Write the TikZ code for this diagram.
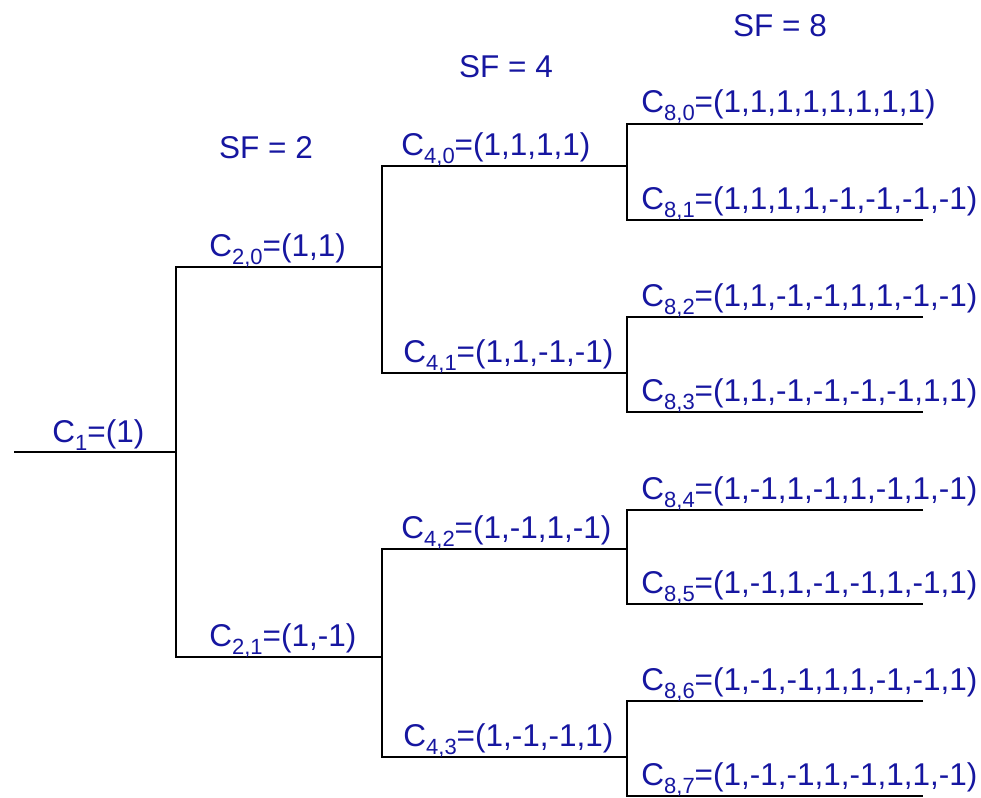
\documentclass[tikz,border=0pt]{standalone}
\usepackage{fontspec}
\setmainfont{Liberation Sans}
\definecolor{lab}{RGB}{22,22,160}
\newcommand{\cs}[2]{C\raisebox{-8pt}{\fontsize{22}{22}\selectfont #1}=(#2)}
\begin{document}
\begin{tikzpicture}[x=1pt,y=-1pt,line width=2.8pt,
  lbl/.style={anchor=base west,inner sep=0pt,text=lab,font=\fontsize{31.5}{32}\selectfont},
  sf/.style={anchor=base,inner sep=0pt,text=lab,font=\fontsize{31.5}{32}\selectfont},
  wire/.style={draw=black,line width=2.8pt}]
\useasboundingbox (0,0) rectangle (981,797);
% junction coordinates
\coordinate (r0) at (14,452);
\coordinate (r1) at (176,452);
\coordinate (a0) at (176,267); \coordinate (a0e) at (382,267);
\coordinate (a1) at (176,657); \coordinate (a1e) at (382,657);
\coordinate (b0) at (382,166); \coordinate (b0e) at (627,166);
\coordinate (b1) at (382,373); \coordinate (b1e) at (627,373);
\coordinate (b2) at (382,549); \coordinate (b2e) at (627,549);
\coordinate (b3) at (382,757); \coordinate (b3e) at (627,757);
\foreach \i/\y in {0/124,1/220,2/317,3/412,4/510,5/604,6/701,7/796}{
  \coordinate (c\i) at (627,\y); \coordinate (c\i e) at (923,\y);
}
% wires
\draw[wire] (r0) -- (r1);
\draw[wire] (a0e) -- (a0) -- (a1) -- (a1e);
\draw[wire] (b0e) -- (b0) -- (b1) -- (b1e);
\draw[wire] (b2e) -- (b2) -- (b3) -- (b3e);
\draw[wire] (c0e) -- (c0) -- (c1) -- (c1e);
\draw[wire] (c2e) -- (c2) -- (c3) -- (c3e);
\draw[wire] (c4e) -- (c4) -- (c5) -- (c5e);
\draw[wire] (c6e) -- (c6) -- (c7) -- (c7e);
% labels
\node[sf] (sf2) at (266,158) {SF = 2};
\node[sf] (sf4) at (506,78) {SF = 4};
\node[sf] (sf8) at (780,37) {SF = 8};
\node[lbl] (l1) at (51,442) {\cs{1}{1}};
\node[lbl] (l20) at (208,256) {\cs{2,0}{1,1}};
\node[lbl] (l21) at (208,646) {\cs{2,1}{1,-1}};
\node[lbl] (l40) at (400,155) {\cs{4,0}{1,1,1,1}};
\node[lbl] (l41) at (402,362) {\cs{4,1}{1,1,-1,-1}};
\node[lbl] (l42) at (400,538) {\cs{4,2}{1,-1,1,-1}};
\node[lbl] (l43) at (402,746) {\cs{4,3}{1,-1,-1,1}};
\node[lbl] (l80) at (640,113) {\cs{8,0}{1,1,1,1,1,1,1,1}};
\node[lbl] (l81) at (640,209) {\cs{8,1}{1,1,1,1,-1,-1,-1,-1}};
\node[lbl] (l82) at (640,306) {\cs{8,2}{1,1,-1,-1,1,1,-1,-1}};
\node[lbl] (l83) at (640,401) {\cs{8,3}{1,1,-1,-1,-1,-1,1,1}};
\node[lbl] (l84) at (640,499) {\cs{8,4}{1,-1,1,-1,1,-1,1,-1}};
\node[lbl] (l85) at (640,593) {\cs{8,5}{1,-1,1,-1,-1,1,-1,1}};
\node[lbl] (l86) at (640,690) {\cs{8,6}{1,-1,-1,1,1,-1,-1,1}};
\node[lbl] (l87) at (640,785) {\cs{8,7}{1,-1,-1,1,-1,1,1,-1}};
\end{tikzpicture}
\end{document}
